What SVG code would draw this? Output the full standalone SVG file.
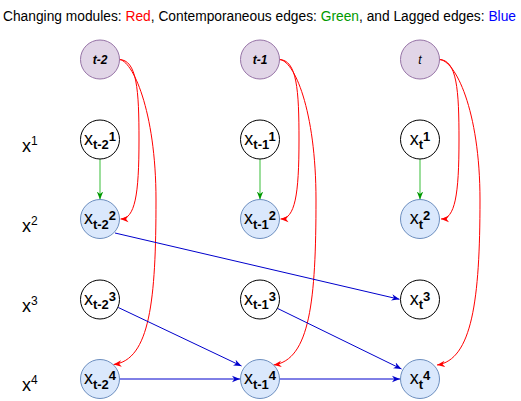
<svg xmlns="http://www.w3.org/2000/svg" width="521" height="401" viewBox="0 0 521 401">
<style>
text{font-family:"Liberation Sans",Arial,sans-serif;fill:#000}
.time{fill:#e1d5e7;stroke:#9673a6;stroke-width:1}
.var{fill:#ffffff;stroke:#000000;stroke-width:1}
.chg{fill:#dae8fc;stroke:#6c8ebf;stroke-width:1}
.tl{font-size:12px;font-style:italic;font-weight:bold}
.bx{font-size:18px}
.s{font-size:13px;font-weight:bold}
.lx{font-size:18px}
.ls{font-size:12px}
.red{fill:none;stroke:#ff0000;stroke-width:1}
.grn{fill:none;stroke:#66cc66;stroke-width:1.3}
.blu{fill:none;stroke:#0000cc;stroke-width:1}
</style>
<defs>
<marker id="aR" viewBox="0 0 10 10" refX="10" refY="5" markerWidth="8" markerHeight="8" markerUnits="userSpaceOnUse" orient="auto"><path d="M0,1 L10,5 L0,9 L3,5 Z" fill="#ff0000"/></marker>
<marker id="aG" viewBox="0 0 10 10" refX="10" refY="5" markerWidth="8" markerHeight="8" markerUnits="userSpaceOnUse" orient="auto"><path d="M0,1 L10,5 L0,9 L3,5 Z" fill="#009900"/></marker>
<marker id="aB" viewBox="0 0 10 10" refX="10" refY="5" markerWidth="8" markerHeight="8" markerUnits="userSpaceOnUse" orient="auto"><path d="M0,1 L10,5 L0,9 L3,5 Z" fill="#0000cc"/></marker>
</defs>

<text x="3" y="20.5" font-size="14" textLength="513" lengthAdjust="spacingAndGlyphs">Changing modules: <tspan fill="#ff0000">Red</tspan>, Contemporaneous edges: <tspan fill="#009900">Green</tspan>, and Lagged edges: <tspan fill="#0000ff">Blue</tspan></text>

<g id="row-labels">
<text x="22" y="152"><tspan class="lx">x</tspan><tspan class="ls" dy="-7">1</tspan></text>
<text x="22" y="232"><tspan class="lx">x</tspan><tspan class="ls" dy="-7">2</tspan></text>
<text x="22" y="312"><tspan class="lx">x</tspan><tspan class="ls" dy="-7">3</tspan></text>
<text x="22" y="391"><tspan class="lx">x</tspan><tspan class="ls" dy="-7">4</tspan></text>
</g>

<g id="connectors">
<path class="red" d="M119,59.5 C137,59.5 139,90 139,140 C139,195 135,219 120.5,219" marker-end="url(#aR)"/>
<path class="red" d="M119,59.5 C132,59.5 156,110 156,200 C156,300 150,360 113.5,364.5" marker-end="url(#aR)"/>
<path class="red" d="M279,59.5 C297,59.5 299,90 299,140 C299,195 295,219 280.5,219" marker-end="url(#aR)"/>
<path class="red" d="M279,59.5 C294,59.5 316,110 316,200 C316,300 310,360 273.5,365" marker-end="url(#aR)"/>
<path class="red" d="M439,59.5 C457,59.5 459,90 459,140 C459,195 455,219 441,219" marker-end="url(#aR)"/>
<path class="red" d="M439,59.5 C455,59.5 480,110 480,200 C480,300 472,360 437,365" marker-end="url(#aR)"/>
<path class="grn" d="M100,159 L100,199.5" marker-end="url(#aG)"/>
<path class="grn" d="M260,159 L260,199.5" marker-end="url(#aG)"/>
<path class="grn" d="M420,159 L420,199.5" marker-end="url(#aG)"/>
<path class="blu" d="M115,233 L399.5,299.3" marker-end="url(#aB)"/>
<path class="blu" d="M118.3,307.5 L241.5,366" marker-end="url(#aB)"/>
<path class="blu" d="M277.3,308.3 L401.5,369" marker-end="url(#aB)"/>
<path class="blu" d="M119.5,379 L240,379" marker-end="url(#aB)"/>
<path class="blu" d="M279.5,379 L400,379" marker-end="url(#aB)"/>
</g>

<g id="t-2"><circle class="time" cx="100" cy="59.5" r="19.5"/><text class="tl" x="100" y="64" text-anchor="middle">t-2</text></g>
<g id="t-1"><circle class="time" cx="260" cy="59.5" r="19.5"/><text class="tl" x="260" y="64" text-anchor="middle">t-1</text></g>
<g id="t"><circle class="time" cx="420" cy="59.5" r="19.5"/><text class="tl" x="420" y="64" text-anchor="middle" style="font-weight:normal">t</text></g>

<g id="x1_t-2"><circle class="var" cx="100" cy="139.5" r="19.5"/><text x="100" y="144.5" text-anchor="middle"><tspan class="bx">x</tspan><tspan class="s" dy="4.5">t-2</tspan><tspan class="s" dy="-8.5">1</tspan></text></g>
<g id="x2_t-2"><circle class="chg" cx="100" cy="219" r="19.5"/><text x="100" y="224" text-anchor="middle"><tspan class="bx">x</tspan><tspan class="s" dy="4.5">t-2</tspan><tspan class="s" dy="-8.5">2</tspan></text></g>
<g id="x3_t-2"><circle class="var" cx="100" cy="299.5" r="19.5"/><text x="100" y="304.5" text-anchor="middle"><tspan class="bx">x</tspan><tspan class="s" dy="4.5">t-2</tspan><tspan class="s" dy="-8.5">3</tspan></text></g>
<g id="x4_t-2"><circle class="chg" cx="100" cy="379" r="19.5"/><text x="100" y="384" text-anchor="middle"><tspan class="bx">x</tspan><tspan class="s" dy="4.5">t-2</tspan><tspan class="s" dy="-8.5">4</tspan></text></g>

<g id="x1_t-1"><circle class="var" cx="260" cy="139.5" r="19.5"/><text x="260" y="144.5" text-anchor="middle"><tspan class="bx">x</tspan><tspan class="s" dy="4.5">t-1</tspan><tspan class="s" dy="-8.5">1</tspan></text></g>
<g id="x2_t-1"><circle class="chg" cx="260" cy="219" r="19.5"/><text x="260" y="224" text-anchor="middle"><tspan class="bx">x</tspan><tspan class="s" dy="4.5">t-1</tspan><tspan class="s" dy="-8.5">2</tspan></text></g>
<g id="x3_t-1"><circle class="var" cx="260" cy="299.5" r="19.5"/><text x="260" y="304.5" text-anchor="middle"><tspan class="bx">x</tspan><tspan class="s" dy="4.5">t-1</tspan><tspan class="s" dy="-8.5">3</tspan></text></g>
<g id="x4_t-1"><circle class="chg" cx="260" cy="379" r="19.5"/><text x="260" y="384" text-anchor="middle"><tspan class="bx">x</tspan><tspan class="s" dy="4.5">t-1</tspan><tspan class="s" dy="-8.5">4</tspan></text></g>

<g id="x1_t"><circle class="var" cx="420" cy="139.5" r="19.5"/><text x="420" y="144.5" text-anchor="middle"><tspan class="bx">x</tspan><tspan class="s" dy="4.5">t</tspan><tspan class="s" dy="-8.5">1</tspan></text></g>
<g id="x2_t"><circle class="chg" cx="420" cy="219" r="19.5"/><text x="420" y="224" text-anchor="middle"><tspan class="bx">x</tspan><tspan class="s" dy="4.5">t</tspan><tspan class="s" dy="-8.5">2</tspan></text></g>
<g id="x3_t"><circle class="var" cx="420" cy="299.5" r="19.5"/><text x="420" y="304.5" text-anchor="middle"><tspan class="bx">x</tspan><tspan class="s" dy="4.5">t</tspan><tspan class="s" dy="-8.5">3</tspan></text></g>
<g id="x4_t"><circle class="chg" cx="420" cy="379" r="19.5"/><text x="420" y="384" text-anchor="middle"><tspan class="bx">x</tspan><tspan class="s" dy="4.5">t</tspan><tspan class="s" dy="-8.5">4</tspan></text></g>
</svg>
